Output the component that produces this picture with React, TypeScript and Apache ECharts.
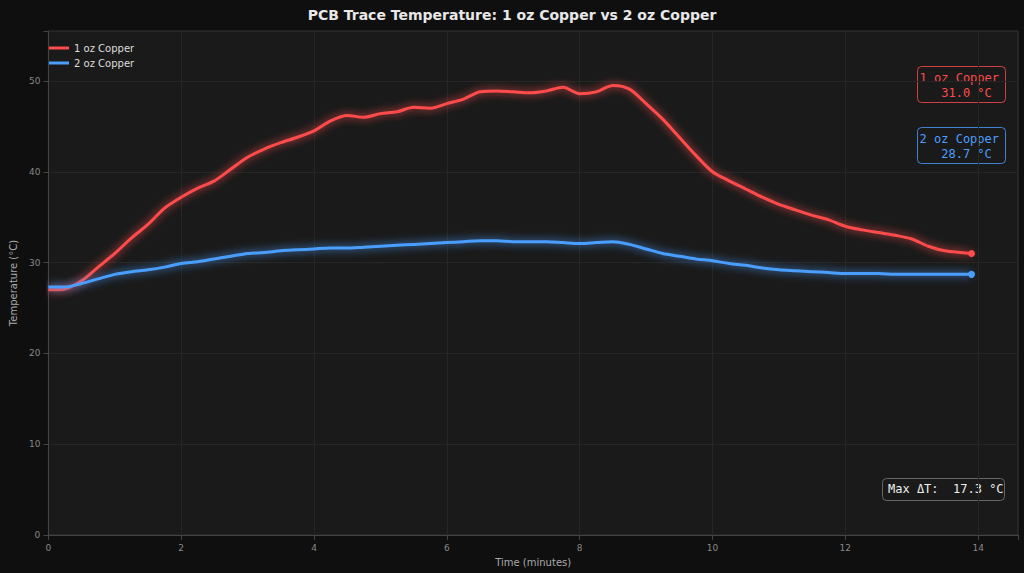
import React, { useEffect, useRef } from 'react';
import * as echarts from 'echarts';

const minutes = [0, 0.25, 0.5, 0.75, 1, 1.25, 1.5, 1.75, 2, 2.25, 2.5, 2.75, 3, 3.25, 3.5, 3.75, 4, 4.25, 4.5, 4.75, 5, 5.25, 5.5, 5.75, 6, 6.25, 6.5, 6.75, 7, 7.25, 7.5, 7.75, 8, 8.25, 8.5, 8.75, 9, 9.25, 9.5, 9.75, 10, 10.25, 10.5, 10.75, 11, 11.25, 11.5, 11.75, 12, 12.25, 12.5, 12.75, 13, 13.25, 13.5, 13.9];
const oneOz = [27.0, 27.1, 28.0, 29.5, 31.0, 32.7, 34.2, 36.0, 37.2, 38.2, 39.0, 40.3, 41.6, 42.5, 43.2, 43.8, 44.5, 45.6, 46.2, 46.0, 46.4, 46.6, 47.1, 47.0, 47.5, 48.0, 48.8, 48.9, 48.8, 48.7, 48.9, 49.3, 48.6, 48.8, 49.5, 49.1, 47.5, 45.8, 43.8, 41.8, 40.0, 39.0, 38.1, 37.2, 36.4, 35.8, 35.2, 34.7, 34.0, 33.6, 33.3, 33.0, 32.6, 31.8, 31.3, 31.0];
const twoOz = [27.3, 27.3, 27.7, 28.2, 28.7, 29.0, 29.2, 29.5, 29.9, 30.1, 30.4, 30.7, 31.0, 31.1, 31.3, 31.4, 31.5, 31.6, 31.6, 31.7, 31.8, 31.9, 32.0, 32.1, 32.2, 32.3, 32.4, 32.4, 32.3, 32.3, 32.3, 32.2, 32.1, 32.2, 32.3, 32.0, 31.5, 31.0, 30.7, 30.4, 30.2, 29.9, 29.7, 29.4, 29.2, 29.1, 29.0, 28.9, 28.8, 28.8, 28.8, 28.7, 28.7, 28.7, 28.7, 28.7];

const RED = '#ff4b4b';
const BLUE = '#4a9eff';

const App = () => {
  const chartRef = useRef<HTMLDivElement>(null);

  useEffect(() => {
    if (!chartRef.current) return;
    const chart = echarts.init(chartRef.current, undefined, { renderer: 'svg' });
    const pairs = (ys: number[]) => ys.map((y, i) => [minutes[i], y]);
    const mkSeries = (name: string, ys: number[], color: string) => ({
      name,
      type: 'line',
      data: pairs(ys),
      smooth: 0.3,
      symbol: 'circle',
      symbolSize: (v: any, p: any) => (p.dataIndex === ys.length - 1 ? 7 : 0),
      showAllSymbol: true,
      itemStyle: { color },
      lineStyle: { color, width: 3, shadowColor: color, shadowBlur: 8 },
    });
    chart.setOption({
      animation: false,
      backgroundColor: '#0f0f0f',
      textStyle: { fontFamily: 'DejaVu Sans' },
      title: {
        text: 'PCB Trace Temperature: 1 oz Copper vs 2 oz Copper',
        left: 'center', top: 3,
        textStyle: { color: '#e8e8e8', fontSize: 14, fontWeight: 'bold' },
      },
      legend: {
        left: 44, top: 38, orient: 'vertical', itemGap: 5,
        icon: 'rect', itemWidth: 20, itemHeight: 3,
        textStyle: { color: '#dddddd', fontSize: 10 },
        data: ['1 oz Copper', '2 oz Copper'],
      },
      grid: { left: 40, right: 6, top: 31, bottom: 38, show: true, backgroundColor: '#1a1a1a', borderColor: '#333', borderWidth: 1 },
      xAxis: {
        type: 'value', min: 0, max: 14.6, interval: 2,
        name: 'Time (minutes)', nameLocation: 'middle', nameGap: 22,
        nameTextStyle: { color: '#aaa', fontSize: 10 },
        axisLabel: { color: '#888', fontSize: 9, formatter: (v: number) => (v % 2 === 0 ? String(v) : '') },
        axisLine: { lineStyle: { color: '#444' } },
        axisTick: { show: true, lineStyle: { color: '#444' } },
        splitLine: { lineStyle: { color: '#262626' } },
      },
      yAxis: {
        type: 'value', min: 0, max: 55.5, interval: 10,
        name: 'Temperature (°C)', nameLocation: 'middle', nameGap: 24,
        nameTextStyle: { color: '#aaa', fontSize: 10 },
        axisLabel: { color: '#888', fontSize: 9, formatter: (v: number) => (v % 10 === 0 ? String(v) : '') },
        axisLine: { show: true, lineStyle: { color: '#444' } },
        axisTick: { show: true, lineStyle: { color: '#444' } },
        splitLine: { lineStyle: { color: '#262626' } },
      },
      series: [mkSeries('1 oz Copper', oneOz, RED), mkSeries('2 oz Copper', twoOz, BLUE)],
      graphic: [
        { type: 'rect', left: 917, top: 66, shape: { width: 88, height: 36, r: 4 }, style: { fill: '#1a1a1a', stroke: RED, lineWidth: 1, opacity: 0.8 } },
        { type: 'text', right: 25, top: 70, style: { text: '1 oz Copper\n   31.0 °C', fill: RED, font: '12px "DejaVu Sans Mono"', align: 'right', lineHeight: 15 } },
        { type: 'rect', left: 917, top: 127, shape: { width: 88, height: 36, r: 4 }, style: { fill: '#1a1a1a', stroke: BLUE, lineWidth: 1, opacity: 0.8 } },
        { type: 'text', right: 25, top: 131, style: { text: '2 oz Copper\n   28.7 °C', fill: BLUE, font: '12px "DejaVu Sans Mono"', align: 'right', lineHeight: 15 } },
        { type: 'rect', left: 882, top: 478, shape: { width: 122, height: 22, r: 4 }, style: { fill: '#1a1a1a', stroke: '#666', lineWidth: 1 } },
        { type: 'text', left: 888, top: 483, style: { text: 'Max ΔT:  17.3 °C', fill: '#eeeeee', font: '12px "DejaVu Sans Mono"' } },
      ],
    });
    return () => chart.dispose();
  }, []);

  return <div ref={chartRef} style={{ position: 'fixed', left: 0, top: 0, width: 1024, height: 573 }} />;
};

export default App;
